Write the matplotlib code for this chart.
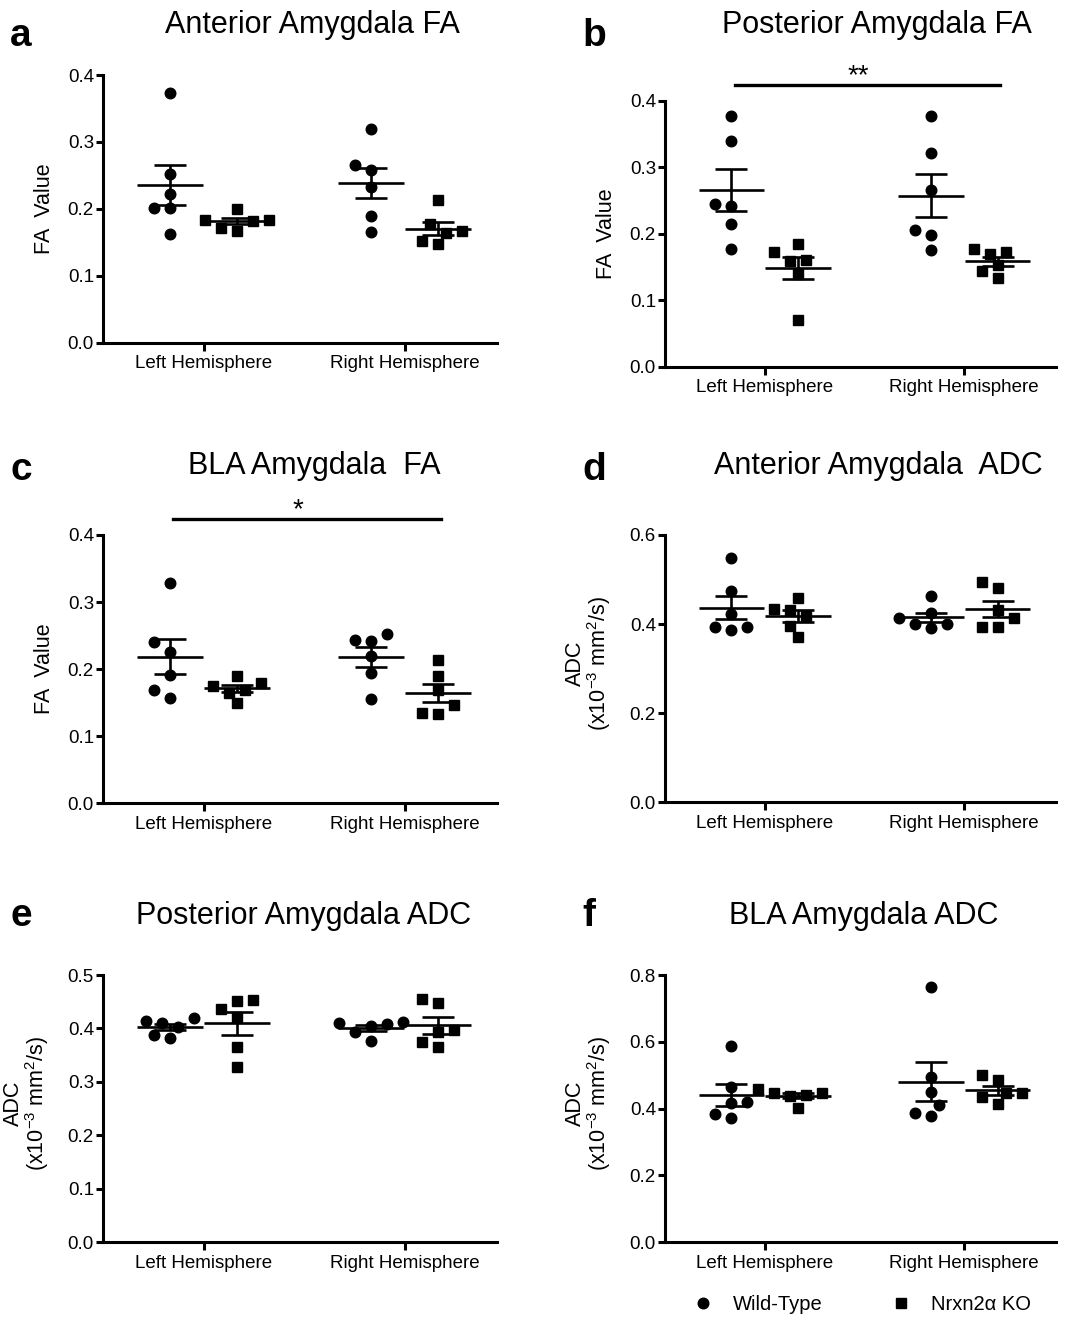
import numpy as np
import matplotlib
matplotlib.use("Agg")
import matplotlib.pyplot as plt
from matplotlib.lines import Line2D

plt.rcParams['font.family'] = ['Liberation Sans', 'DejaVu Sans']
plt.rcParams['mathtext.fontset'] = 'custom'
plt.rcParams['mathtext.rm'] = 'Liberation Sans'
plt.rcParams['mathtext.it'] = 'Liberation Sans:italic'
plt.rcParams['mathtext.bf'] = 'Liberation Sans:bold'

# ---------------- data ----------------
hemispheres = ['Left Hemisphere', 'Right Hemisphere']
group_labels = ['Wild-Type', 'Nrxn2\u03b1 KO']

ant_fa_wt_left = [0.373, 0.252, 0.222, 0.202, 0.201, 0.163]
ant_fa_ko_left = [0.184, 0.182, 0.200, 0.167, 0.172, 0.184]
ant_fa_wt_right = [0.320, 0.266, 0.258, 0.233, 0.189, 0.165]
ant_fa_ko_right = [0.213, 0.178, 0.164, 0.167, 0.152, 0.147]

post_fa_wt_left = [0.377, 0.340, 0.242, 0.245, 0.215, 0.177]
post_fa_ko_left = [0.159, 0.173, 0.184, 0.161, 0.140, 0.070]
post_fa_wt_right = [0.377, 0.322, 0.265, 0.205, 0.198, 0.175]
post_fa_ko_right = [0.173, 0.153, 0.170, 0.177, 0.144, 0.133]

bla_fa_wt_left = [0.329, 0.240, 0.226, 0.191, 0.169, 0.157]
bla_fa_ko_left = [0.180, 0.169, 0.175, 0.165, 0.190, 0.149]
bla_fa_wt_right = [0.253, 0.242, 0.244, 0.219, 0.195, 0.155]
bla_fa_ko_right = [0.213, 0.190, 0.169, 0.146, 0.133, 0.135]

ant_adc_wt_left = [0.548, 0.474, 0.423, 0.394, 0.393, 0.387]
ant_adc_ko_left = [0.459, 0.432, 0.433, 0.418, 0.396, 0.370]
ant_adc_wt_right = [0.462, 0.424, 0.413, 0.400, 0.400, 0.391]
ant_adc_ko_right = [0.494, 0.482, 0.432, 0.413, 0.393, 0.393]

post_adc_wt_left = [0.402, 0.420, 0.414, 0.410, 0.382, 0.388]
post_adc_ko_left = [0.452, 0.454, 0.436, 0.422, 0.365, 0.327]
post_adc_wt_right = [0.405, 0.413, 0.411, 0.408, 0.394, 0.377]
post_adc_ko_right = [0.448, 0.456, 0.393, 0.398, 0.375, 0.365]

bla_adc_wt_left = [0.588, 0.466, 0.416, 0.419, 0.384, 0.371]
bla_adc_ko_left = [0.446, 0.458, 0.441, 0.439, 0.448, 0.401]
bla_adc_wt_right = [0.765, 0.496, 0.449, 0.411, 0.388, 0.378]
bla_adc_ko_right = [0.501, 0.486, 0.446, 0.448, 0.434, 0.414]

titles = ['Anterior Amygdala FA', 'Posterior Amygdala FA', 'BLA Amygdala  FA',
          'Anterior Amygdala  ADC', 'Posterior Amygdala ADC', 'BLA Amygdala ADC']
letters = ['a', 'b', 'c', 'd', 'e', 'f']
fa_label = 'FA  Value'
adc_label = 'ADC\n(x10$^{-3}$ mm$^{2}$/s)'

# ---------------- figure ----------------
W, H = 1066, 1318
fig = plt.figure(figsize=(W / 100, H / 100), dpi=100)

def rect(left, right, top, bottom):
    return [left / W, 1 - bottom / H, (right - left) / W, (bottom - top) / H]

panels = [
    dict(rect=rect(103, 497, 75, 342.7), data=[ant_fa_wt_left, ant_fa_ko_left, ant_fa_wt_right, ant_fa_ko_right],
         ymax=0.4, ystep=0.1, ylabel=fa_label, sig=None, title_xy=(312, 33), letter_xy=(10, 46)),
    dict(rect=rect(665, 1056, 100.7, 366.7), data=[post_fa_wt_left, post_fa_ko_left, post_fa_wt_right, post_fa_ko_right],
         ymax=0.4, ystep=0.1, ylabel=fa_label, sig=('**', 85), title_xy=(877, 33), letter_xy=(582, 46)),
    dict(rect=rect(103, 497, 535, 803.3), data=[bla_fa_wt_left, bla_fa_ko_left, bla_fa_wt_right, bla_fa_ko_right],
         ymax=0.4, ystep=0.1, ylabel=fa_label, sig=('*', 519), title_xy=(314, 474), letter_xy=(10, 480)),
    dict(rect=rect(665, 1056, 535, 802.3), data=[ant_adc_wt_left, ant_adc_ko_left, ant_adc_wt_right, ant_adc_ko_right],
         ymax=0.6, ystep=0.2, ylabel=adc_label, sig=None, title_xy=(878, 474), letter_xy=(582, 480)),
    dict(rect=rect(103, 497, 975, 1242.3), data=[post_adc_wt_left, post_adc_ko_left, post_adc_wt_right, post_adc_ko_right],
         ymax=0.5, ystep=0.1, ylabel=adc_label, sig=None, title_xy=(304, 924), letter_xy=(10, 926)),
    dict(rect=rect(665, 1056, 975, 1242.3), data=[bla_adc_wt_left, bla_adc_ko_left, bla_adc_wt_right, bla_adc_ko_right],
         ymax=0.8, ystep=0.2, ylabel=adc_label, sig=None, title_xy=(864, 924), letter_xy=(582, 926)),
]

XLIM = (-0.5, 1.46)
OFFSET = 0.167      # group offset from hemisphere centre
MEAN_HALF = 0.165   # half width of mean line
LW = 1.9


def swarm(values, px_y, px_x, dmin=13.0, step=8.0):
    """simple beeswarm: returns x-offsets (data units) avoiding overlap"""
    vals = np.asarray(values, float)
    order = np.argsort(vals)
    placed = []
    offs = np.zeros(len(vals))
    cands = [0]
    for j in range(1, 8):
        cands += [-j, j]
    for i in order:
        y = vals[i] * px_y
        for c in cands:
            x = c * step
            if all(np.hypot(x - px, y - py) >= dmin for px, py in placed):
                break
        placed.append((x, y))
        offs[i] = x / px_x
    return offs


for p_i, p in enumerate(panels):
    ax = fig.add_axes(p['rect'])
    ax.set_xlim(*XLIM)
    ax.set_ylim(0, p['ymax'])
    ax_w_px = p['rect'][2] * W
    px_x = ax_w_px / (XLIM[1] - XLIM[0])
    px_y = p['rect'][3] * H / p['ymax']
    for idx, vals in enumerate(p['data']):
        hemi = idx // 2
        grp = idx % 2
        xc = hemi + (-OFFSET if grp == 0 else OFFSET)
        offs = swarm(vals, px_y, px_x)
        marker = 'o' if grp == 0 else 's'
        ms = 7.6 if grp == 0 else 7.0
        ax.plot(xc + offs, vals, linestyle='none', marker=marker, ms=ms, color='black',
                mec='black', clip_on=False, zorder=3)
        v = np.asarray(vals)
        m = v.mean()
        sem = v.std(ddof=1) / np.sqrt(len(v))
        ax.hlines(m, xc - MEAN_HALF, xc + MEAN_HALF, colors='black', lw=LW, zorder=4)
        ax.errorbar([xc], [m], yerr=[sem], fmt='none', ecolor='black', elinewidth=LW,
                    capsize=11.5, capthick=LW, zorder=4)

    for s in ['top', 'right']:
        ax.spines[s].set_visible(False)
    for s in ['left', 'bottom']:
        ax.spines[s].set_linewidth(2.2)
    ax.set_xticks([0, 1])
    ax.set_xticklabels(hemispheres, fontsize=13.5)
    yt = np.arange(0, p['ymax'] + 1e-9, p['ystep'])
    ax.set_yticks(yt)
    ax.set_yticklabels(['%.1f' % t for t in yt], fontsize=13.5)
    ax.tick_params(axis='x', length=6, width=2.2, pad=3)
    ax.tick_params(axis='y', length=5, width=2.2, pad=1.5)
    if p['ylabel'] == fa_label:
        ax.set_ylabel(p['ylabel'], fontsize=15.5, va='center')
        ax.yaxis.set_label_coords(-58 / ax_w_px, 0.5)
    else:
        ax.set_ylabel(p['ylabel'], fontsize=15.5, va='center', ha='center', linespacing=1.0)
        ax.yaxis.set_label_coords(-76 / ax_w_px, 0.52)

    fig.text(p['title_xy'][0] / W, 1 - p['title_xy'][1] / H, titles[p_i], fontsize=22,
             ha='center', va='baseline')
    fig.text(p['letter_xy'][0] / W, 1 - p['letter_xy'][1] / H, letters[p_i], fontsize=28,
             fontweight='bold', ha='left', va='baseline')

    if p['sig'] is not None:
        star, ypix = p['sig']
        ax_top_px = H - (p['rect'][1] + p['rect'][3]) * H
        yfrac = 1 + (ax_top_px - ypix) / (p['rect'][3] * H)
        trans = ax.get_xaxis_transform()
        ax.plot([-0.15, 1.18], [yfrac, yfrac], color='black', lw=2.4, transform=trans, clip_on=False)
        ax.text(0.47, yfrac + 0.005, star, fontsize=20, ha='center', va='baseline', transform=trans)

handles = [Line2D([], [], linestyle='none', marker='o', ms=7.6, color='black'),
           Line2D([], [], linestyle='none', marker='s', ms=7.0, color='black')]
fig.legend(handles, group_labels, loc='center', bbox_to_anchor=(862 / W, 1 - 1305 / H), ncol=2,
           frameon=False, fontsize=14.5, handletextpad=1.0, columnspacing=3.4, handlelength=1.0)

fig.savefig('out.png', dpi=100)
